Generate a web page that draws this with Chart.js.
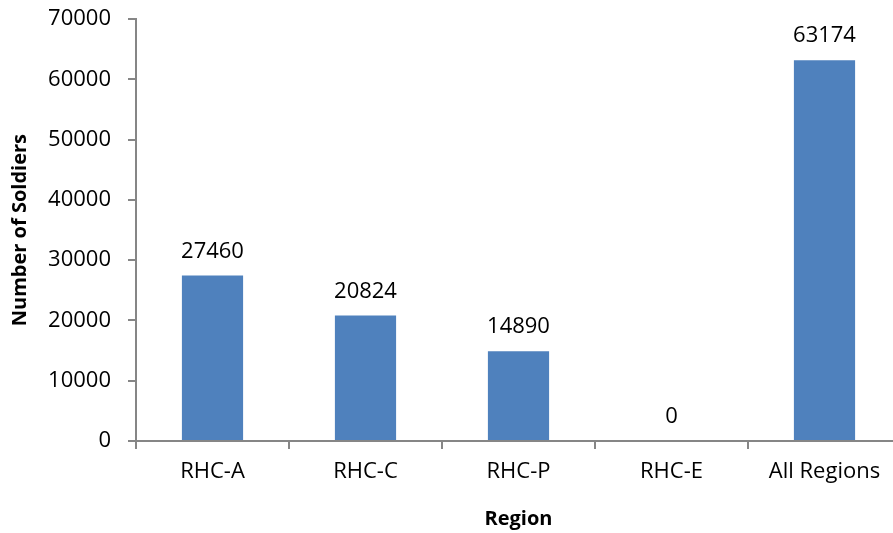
<!DOCTYPE html>
<html>
<head>
<meta charset="utf-8">
<script src="https://cdn.jsdelivr.net/npm/chart.js@4.4.1/dist/chart.umd.min.js"></script>
<style>
html,body{margin:0;padding:0;background:#fff;overflow:hidden;}
#wrap{position:relative;width:912px;height:544px;margin-top:-11px;}
</style>
</head>
<body>
<div id="wrap"><canvas id="c"></canvas></div>
<script>
const categories = ["RHC-A", "RHC-C", "RHC-P", "RHC-E", "All Regions"];
const soldiers = [27460, 20824, 14890, 0, 63174];
const yTicks = [0, 10000, 20000, 30000, 40000, 50000, 60000, 70000];

const FONT = "'Open Sans', sans-serif";
const AXIS = '#868686';

const valueLabels = {
  id: 'valueLabels',
  afterDatasetsDraw(chart) {
    const ctx = chart.ctx;
    const meta = chart.getDatasetMeta(0);
    ctx.save();
    ctx.font = "22px " + FONT;
    ctx.fillStyle = '#000';
    ctx.textAlign = 'center';
    ctx.textBaseline = 'alphabetic';
    meta.data.forEach((bar, i) => {
      ctx.fillText(String(chart.data.datasets[0].data[i]), bar.x, bar.y - 18);
    });
    ctx.restore();
  }
};

new Chart(document.getElementById('c'), {
  type: 'bar',
  data: {
    labels: categories,
    datasets: [{
      data: soldiers,
      backgroundColor: '#4F81BD',
      borderWidth: 0,
      categoryPercentage: 1,
      barPercentage: 0.4
    }]
  },
  options: {
    responsive: true,
    maintainAspectRatio: false,
    animation: false,
    layout: { padding: { left: 8, right: 11, top: 0, bottom: 0 } },
    plugins: { legend: { display: false }, tooltip: { enabled: false } },
    scales: {
      x: {
        offset: true,
        grid: { display: true, drawOnChartArea: false, offset: true, tickLength: 8, color: AXIS, lineWidth: 2 },
        border: { display: true, color: AXIS, width: 2 },
        ticks: { font: { family: FONT, size: 22 }, color: '#000', padding: 10, maxRotation: 0 },
        title: { display: true, text: 'Region', font: { family: FONT, size: 20, weight: 'bold' }, color: '#000', padding: { top: 2, bottom: 2 } },
        afterFit(scale) { scale.height = 92; }
      },
      y: {
        min: 0, max: 70000,
        afterBuildTicks(scale) { scale.ticks = yTicks.map(v => ({ value: v })); },
        grid: { display: true, drawOnChartArea: false, tickLength: 8, color: AXIS, lineWidth: 2 },
        border: { display: true, color: AXIS, width: 2 },
        ticks: { font: { family: FONT, size: 22 }, color: '#000', padding: 17, callback: v => String(v) },
        title: { display: true, text: 'Number of Soldiers', font: { family: FONT, size: 20, weight: 'bold' }, color: '#000', padding: { top: 0, bottom: 0 } },
        afterFit(scale) { scale.width = 128; }
      }
    }
  },
  plugins: [valueLabels]
});
</script>
</body>
</html>
